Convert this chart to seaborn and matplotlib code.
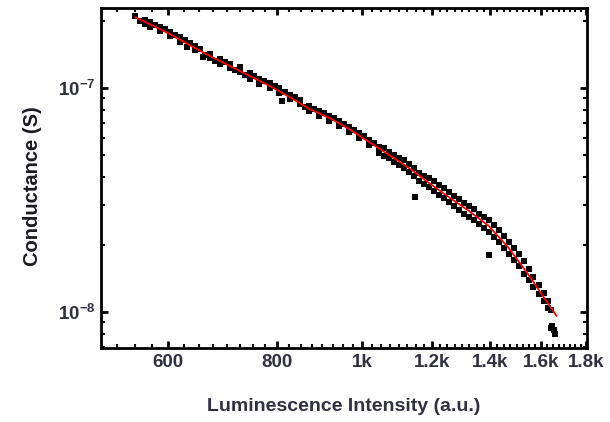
import numpy as np
import pandas as pd
import matplotlib
matplotlib.use("Agg")
import matplotlib.pyplot as plt
import matplotlib.ticker as mticker
import seaborn as sns

# measured points (luminescence intensity in a.u., conductance in S)
lum = [550, 558, 565, 565, 572, 572, 580, 587, 587, 595, 603, 603, 611, 619, 619, 627,
       630, 635, 644, 644, 652, 657, 661, 670, 670, 679, 688, 688, 697, 706, 706, 715,
       724, 724, 734, 744, 744, 753, 763, 763, 773, 784, 784, 794, 804, 804, 810, 815,
       826, 826, 837, 848, 848, 859, 870, 870, 881, 893, 893, 905, 917, 917, 929, 941,
       941, 954, 966, 966, 979, 992, 992, 1005, 1018, 1018, 1031, 1045, 1045,
       1059, 1059, 1073, 1073, 1087, 1087, 1101, 1101, 1116, 1116, 1131, 1131, 1145, 1145,
       1148, 1161, 1161, 1176, 1176, 1191, 1191, 1207, 1207, 1223, 1223, 1239, 1239,
       1255, 1255, 1272, 1272, 1289, 1289, 1306, 1306, 1323, 1323, 1340, 1340,
       1358, 1358, 1376, 1376, 1394, 1394, 1394, 1412, 1412, 1431, 1431, 1450, 1450,
       1469, 1469, 1488, 1488, 1508, 1508, 1528, 1528, 1548, 1548, 1568, 1568,
       1589, 1589, 1610, 1610, 1631, 1631, 1644, 1648, 1657, 1661, 1644]
cond = [2.096, 1.991, 2.012, 1.930, 1.971, 1.871, 1.910, 1.796, 1.871, 1.834, 1.706, 1.778,
        1.724, 1.605, 1.689, 1.638, 1.524, 1.588, 1.478, 1.540, 1.493, 1.375, 1.404, 1.418,
        1.361, 1.320, 1.348, 1.280, 1.307, 1.228, 1.280, 1.203, 1.241, 1.179, 1.143, 1.167,
        1.097, 1.131, 1.042, 1.097, 1.075, 1.000, 1.053, 1.021, 0.950, 1.000, 0.875, 0.960,
        0.893, 0.9306, 0.912, 0.848, 0.884, 0.822, 0.789, 0.831, 0.806, 0.750, 0.789, 0.774,
        0.712, 0.750, 0.735, 0.677, 0.712, 0.691, 0.636, 0.670, 0.649, 0.598, 0.630, 0.611,
        0.557, 0.586, 0.568, 0.513, 0.545,
        0.540, 0.497, 0.518, 0.487, 0.5023, 0.467, 0.487, 0.4533, 0.4772, 0.439, 0.458, 0.421,
        0.439, 0.405, 0.326, 0.418, 0.384, 0.405, 0.373, 0.397, 0.362, 0.384, 0.347, 0.369,
        0.333, 0.358, 0.323, 0.343, 0.310, 0.330, 0.2975, 0.320, 0.2855, 0.3068, 0.274,
        0.2975, 0.2657, 0.2884, 0.2576, 0.2740, 0.2472, 0.2657, 0.2371, 0.2576, 0.2276,
        0.1797, 0.2447, 0.2162, 0.2323, 0.2054, 0.2184, 0.1931, 0.2054, 0.1816, 0.1931,
        0.171, 0.1816, 0.1605, 0.1692, 0.1478, 0.1556, 0.139, 0.1433, 0.1293, 0.132,
        0.1203, 0.1216, 0.1120, 0.1120, 0.1042, 0.1021, 0.0866, 0.0830, 0.0797, 0.0848]
cond = [c * 1e-7 for c in cond]

# fitted curve
fit_lum = [550, 572, 603, 635, 670, 706, 744, 784, 826, 870, 917, 966, 1018, 1073,
           1131, 1191, 1255, 1323, 1394, 1469, 1548, 1610, 1666]
fit_cond = [2.074, 1.930, 1.742, 1.556, 1.390, 1.254, 1.131, 1.021, 0.912, 0.806, 0.735,
            0.656, 0.574, 0.5023, 0.439, 0.377, 0.326, 0.2826, 0.2422, 0.1931, 0.1463,
            0.1167, 0.096]
fit_cond = [c * 1e-7 for c in fit_cond]

x_ticks = [600, 800, 1000, 1200, 1400, 1600, 1800]
x_ticklabels = ["600", "800", "1k", "1.2k", "1.4k", "1.6k", "1.8k"]

sns.set_style("white")
plt.rcParams['font.family'] = ['Liberation Sans', 'DejaVu Sans']
plt.rcParams['font.weight'] = 'bold'
plt.rcParams['mathtext.fontset'] = 'custom'
plt.rcParams['mathtext.rm'] = 'Liberation Sans:bold'
plt.rcParams['mathtext.bf'] = 'Liberation Sans:bold'
plt.rcParams['mathtext.default'] = 'bf'

df = pd.DataFrame({"lum": lum, "cond": cond})
fit = pd.DataFrame({"lum": fit_lum, "cond": fit_cond})

fig = plt.figure(figsize=(6.1, 4.22), dpi=100)
ax = fig.add_axes([101 / 610, 74 / 422, 486 / 610, 340 / 422])

sns.scatterplot(data=df, x="lum", y="cond", ax=ax, color="black", marker="s",
                s=25, linewidth=0)
sns.lineplot(data=fit, x="lum", y="cond", ax=ax, color="#ff0000", linewidth=1.3,
             sort=False)

ax.set_xscale("log")
ax.set_yscale("log")
ax.set_xlim(503, 1805)
ax.set_ylim(6.9e-9, 2.28e-7)

ax.xaxis.set_major_locator(mticker.FixedLocator(x_ticks))
ax.xaxis.set_major_formatter(mticker.FixedFormatter(x_ticklabels))
ax.xaxis.set_minor_locator(mticker.FixedLocator([v for v in range(500, 1800, 25) if v not in x_ticks]))
ax.xaxis.set_minor_formatter(mticker.NullFormatter())

ax.yaxis.set_major_locator(mticker.FixedLocator([1e-8, 1e-7]))
ax.yaxis.set_major_formatter(mticker.FixedFormatter([r"10$^{-8}$", r"10$^{-7}$"]))
ax.yaxis.set_minor_locator(mticker.LogLocator(base=10, subs=np.arange(2, 10)))
ax.yaxis.set_minor_formatter(mticker.NullFormatter())

for sp in ax.spines.values():
    sp.set_linewidth(2)
    sp.set_color("black")

ax.tick_params(which="both", direction="in", top=True, right=True, left=True, bottom=True,
               colors="black")
ax.tick_params(which="major", length=5, width=2, labelsize=13.5, pad=4, labelcolor="#303040")
ax.tick_params(which="minor", length=3, width=1.5)

ax.set_xlabel("Luminescence Intensity (a.u.)", fontsize=14, fontweight="bold",
              color="#303040")
ax.set_ylabel("Conductance (S)", fontsize=14.5, fontweight="bold", color="#1a1a22")
ax.xaxis.set_label_coords(0.5, -0.147)
ax.yaxis.set_label_coords(-0.121, 0.476)

fig.savefig("out.png", dpi=100)
